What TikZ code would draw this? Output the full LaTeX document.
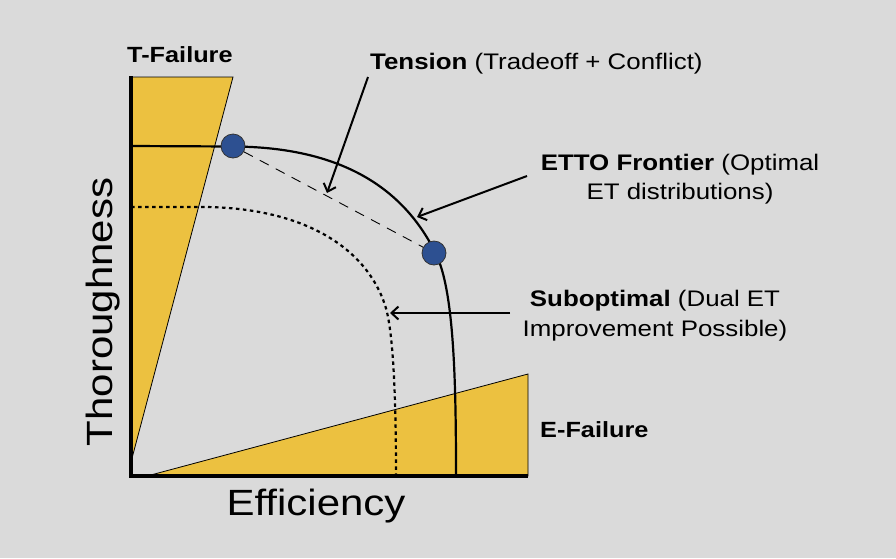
\documentclass[tikz,border=0pt]{standalone}
\usepackage{fontspec}
\setmainfont{Liberation Sans}[FakeStretch=1.15]
\usetikzlibrary{arrows.meta}
\definecolor{bgc}{RGB}{218,218,218}
\definecolor{fail}{RGB}{236,193,64}
\definecolor{dotc}{RGB}{45,80,145}
\tikzset{
  failzone/.style={fill=fail,draw=black,line width=0.8pt,line join=miter},
  axisline/.style={line width=4.5pt},
  frontier/.style={line width=2.2pt},
  subopt/.style={line width=2.2pt,dash pattern=on 3.5pt off 3.5pt},
  tensionline/.style={line width=0.9pt,dash pattern=on 10pt off 8pt},
  pointer/.style={line width=2pt,-{Straight Barb[length=7pt,width=13pt,line width=2pt]}},
  dotnode/.style={circle,fill=dotc,draw=black!80,line width=0.8pt,minimum size=24pt,inner sep=0pt},
  lbl/.style={font=\fontsize{22.5}{26}\selectfont,inner sep=0pt},
  zonelbl/.style={font=\fontsize{22}{26}\selectfont\bfseries,inner sep=0pt},
  axlbl/.style={font=\fontsize{36.5}{40}\selectfont,inner sep=0pt}
}
\begin{document}
\begin{tikzpicture}[x=1pt,y=-1pt]
\fill[bgc] (0,0) rectangle (896,558);
\useasboundingbox (0,0) rectangle (896,558);
% failure zones
\draw[failzone] (131,77) -- (233,77) -- (131,462) -- cycle;
\draw[failzone] (147,476) -- (528,374) -- (528,476) -- cycle;
% suboptimal curve
\draw[subopt] (131,207) -- (205,207)
  .. controls (300,208) and (365,245) .. (385,305)
  .. controls (392,326) and (396,380) .. (396,476);
% frontier curve
\draw[frontier] (131,146) -- (233,146.5)
  .. controls (330,147) and (400,180) .. (436,254)
  .. controls (454,291) and (456,380) .. (456,476);
% axes
\draw[axisline] (131,76) -- (131,476) -- (528,476);
% optimal points
\node[dotnode] (d1) at (233,146) {};
\node[dotnode] (d2) at (434,253) {};
\draw[tensionline] (d1) -- (d2);
% labels
\node[zonelbl,anchor=base west] (tf) at (127,62) {T-Failure};
\node[zonelbl,anchor=base west] (ef) at (540,437) {E-Failure};
\node[lbl,anchor=base west] (ten) at (370,69) {\textbf{Tension} (Tradeoff + Conflict)};
\node[lbl,anchor=base] (et1) at (680,170) {\textbf{ETTO Frontier} (Optimal};
\node[lbl,anchor=base] (et2) at (680,199) {ET distributions)};
\node[lbl,anchor=base] (so1) at (655,306.5) {\textbf{Suboptimal} (Dual ET};
\node[lbl,anchor=base] (so2) at (655,336) {Improvement Possible)};
\node[axlbl,anchor=base] (xl) at (316,515) {Efficiency};
\node[axlbl,anchor=base,rotate=90] (yl) at (112,312) {Thoroughness};
% pointers
\coordinate (tenS) at (368,77);
\coordinate (tenE) at (327,193);
\coordinate (etS) at (527,176);
\coordinate (etE) at (417,217);
\coordinate (soS) at (510,313);
\coordinate (soE) at (390,313);
\draw[pointer] (tenS) -- (tenE);
\draw[pointer] (etS) -- (etE);
\draw[pointer] (soS) -- (soE);
\end{tikzpicture}
\end{document}
